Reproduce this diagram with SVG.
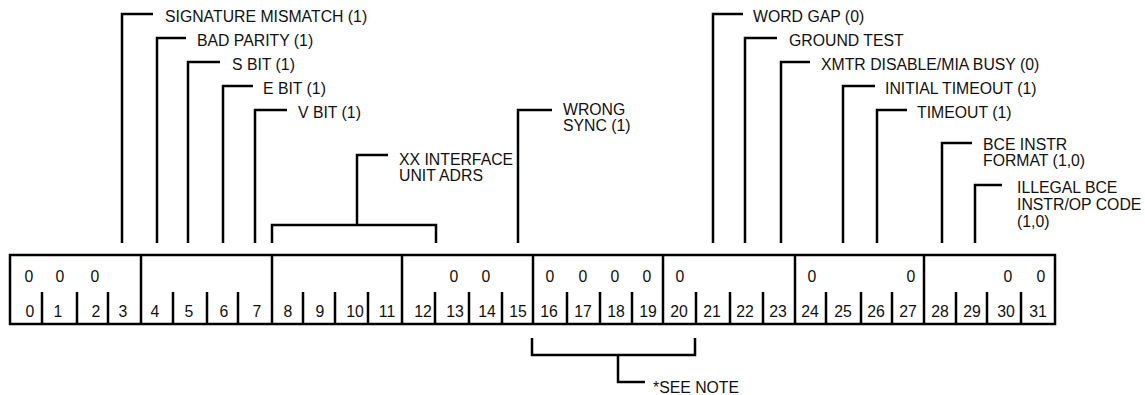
<svg xmlns="http://www.w3.org/2000/svg" width="1145" height="395" viewBox="0 0 1145 395">
<style>
text{font-family:"Liberation Sans",Arial,sans-serif;font-size:15.8px;fill:#111}
.ln{fill:none;stroke:#000;stroke-width:2.5;stroke-linecap:butt;stroke-linejoin:miter}
.c{text-anchor:middle}
</style>
<rect width="1145" height="395" fill="#fff"/>
<g id="register">
<rect class="ln" x="10" y="255" width="1045" height="69"/>
<path class="ln" d="M141 255V324M272 255V324M402 255V324M533 255V324M663 255V324M795 255V324M924 255V324"/>
<path class="ln" d="M42 292V324M77 292V324M108 292V324M173 292V324M207 292V324M238 292V324M303 292V324M335 292V324M368 292V324M435 292V324M469 292V324M502 292V324M567 292V324M600 292V324M632 292V324M696 292V324M730 292V324M763 292V324M826 292V324M861 292V324M892 292V324M956 292V324M987 292V324M1021 292V324"/>
<g class="c">
<text x="29" y="282">0</text><text x="60" y="282">0</text><text x="95" y="282">0</text>
<text x="454" y="282">0</text><text x="486" y="282">0</text>
<text x="550" y="282">0</text><text x="583" y="282">0</text><text x="615" y="282">0</text><text x="647" y="282">0</text>
<text x="680" y="282">0</text>
<text x="812" y="282">0</text><text x="911" y="282">0</text>
<text x="1008" y="282">0</text><text x="1041" y="282">0</text>
<text x="30" y="317">0</text><text x="58" y="317">1</text><text x="96" y="317">2</text><text x="123" y="317">3</text>
<text x="155" y="317">4</text><text x="189" y="317">5</text><text x="224" y="317">6</text><text x="257" y="317">7</text>
<text x="288" y="317">8</text><text x="320" y="317">9</text><text x="355" y="317">10</text><text x="387" y="317">11</text>
<text x="423" y="317">12</text><text x="455" y="317">13</text><text x="487" y="317">14</text><text x="518" y="317">15</text>
<text x="549" y="317">16</text><text x="583" y="317">17</text><text x="616" y="317">18</text><text x="648" y="317">19</text>
<text x="679" y="317">20</text><text x="712" y="317">21</text><text x="745" y="317">22</text><text x="778" y="317">23</text>
<text x="810" y="317">24</text><text x="843" y="317">25</text><text x="876" y="317">26</text><text x="908" y="317">27</text>
<text x="940" y="317">28</text><text x="972" y="317">29</text><text x="1006" y="317">30</text><text x="1038" y="317">31</text>
</g>
</g>
<g id="connectors">
<path class="ln" d="M122 243V14H153"/>
<path class="ln" d="M157 243V38H186"/>
<path class="ln" d="M188 243V62H220"/>
<path class="ln" d="M223 243V86H253"/>
<path class="ln" d="M255 243V110H287"/>
<path class="ln" d="M272 243V225H436V243M357 225V155H388"/>
<path class="ln" d="M518 243V110H552"/>
<path class="ln" d="M713 243V14H743"/>
<path class="ln" d="M745 243V38H777"/>
<path class="ln" d="M781 243V62H810"/>
<path class="ln" d="M843 243V86H875"/>
<path class="ln" d="M877 243V110H907"/>
<path class="ln" d="M942 243V143H972"/>
<path class="ln" d="M975 243V185H1002"/>
<path class="ln" d="M532 338V355H695V338M618 355V382H645"/>
</g>
<g id="label-signature"><text x="165" y="22">SIGNATURE MISMATCH (1)</text></g>
<g id="label-parity"><text x="197" y="46">BAD PARITY (1)</text></g>
<g id="label-sbit"><text x="232" y="70">S BIT (1)</text></g>
<g id="label-ebit"><text x="263" y="94">E BIT (1)</text></g>
<g id="label-vbit"><text x="298" y="118">V BIT (1)</text></g>
<g id="label-xx"><text x="399" y="165">XX INTERFACE</text><text x="399" y="181">UNIT ADRS</text></g>
<g id="label-sync"><text x="563" y="115">WRONG</text><text x="563" y="131">SYNC (1)</text></g>
<g id="label-wordgap"><text x="753" y="22">WORD GAP (0)</text></g>
<g id="label-ground"><text x="789" y="46">GROUND TEST</text></g>
<g id="label-xmtr"><text x="821" y="70">XMTR DISABLE/MIA BUSY (0)</text></g>
<g id="label-inittimeout"><text x="885" y="94">INITIAL TIMEOUT (1)</text></g>
<g id="label-timeout"><text x="917" y="118">TIMEOUT (1)</text></g>
<g id="label-bceformat"><text x="983" y="150">BCE INSTR</text><text x="983" y="166">FORMAT (1,0)</text></g>
<g id="label-illegal"><text x="1017" y="193">ILLEGAL BCE</text><text x="1017" y="210">INSTR/OP CODE</text><text x="1017" y="227">(1,0)</text></g>
<g id="label-note"><text x="653" y="393">*SEE NOTE</text></g>
</svg>
